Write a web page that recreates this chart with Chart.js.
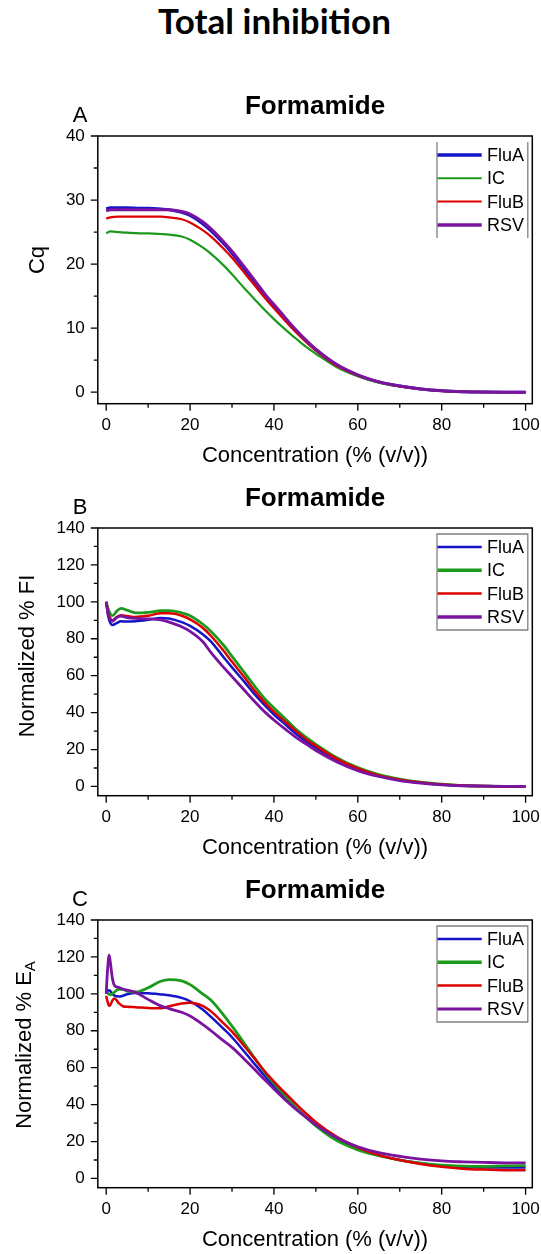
<!DOCTYPE html>
<html>
<head>
<meta charset="utf-8">
<script src="https://cdn.jsdelivr.net/npm/chart.js@4.4.1/dist/chart.umd.min.js"></script>
<style>
  body { margin: 0; width: 541px; height: 1254px; overflow: hidden; background: #fff; position: relative; }
  #title { position: absolute; top: 3px; left: 4px; width: 541px; text-align: center;
           font: bold 35px Lato, "Open Sans", sans-serif; line-height: 35px; color: #000; }
  .panel { position: absolute; left: 0; width: 541px; height: 392px; }
</style>
</head>
<body>
<div id="title">Total inhibition</div>
<div class="panel" style="top:80px"><canvas id="chartA" width="541" height="392"></canvas></div>
<div class="panel" style="top:472px"><canvas id="chartB" width="541" height="392"></canvas></div>
<div class="panel" style="top:864px"><canvas id="chartC" width="541" height="392"></canvas></div>
<script>
// series names and tick labels
const seriesNames = ['FluA', 'IC', 'FluB', 'RSV'];
const xTicks = [0, 20, 40, 60, 80, 100];
const yTicksA = [0, 10, 20, 30, 40];
const yTicksBC = [0, 20, 40, 60, 80, 100, 120, 140];

// A: Cq
const concA = [0, 1, 3, 5, 8, 10, 13, 15, 18, 20, 23, 25, 28, 30, 33, 35, 38, 40, 43, 45, 48, 50, 55, 60, 65, 70, 75, 80, 85, 90, 95, 100];
const cqFluA = [28.6, 28.8, 28.8, 28.8, 28.7, 28.7, 28.6, 28.5, 28.1, 27.6, 26.3, 25.2, 23.2, 21.7, 19.2, 17.6, 15.0, 13.5, 11.2, 9.7, 7.8, 6.6, 4.2, 2.6, 1.6, 0.95, 0.5, 0.22, 0.08, 0.02, 0, 0];
const cqIC = [24.8, 25.1, 25.0, 24.9, 24.8, 24.8, 24.7, 24.6, 24.3, 23.8, 22.6, 21.6, 19.8, 18.4, 16.2, 14.8, 12.7, 11.4, 9.6, 8.5, 6.9, 6.0, 3.9, 2.5, 1.5, 0.9, 0.48, 0.2, 0.08, 0.02, 0, 0];
const cqFluB = [27.1, 27.3, 27.4, 27.4, 27.4, 27.4, 27.4, 27.3, 27.0, 26.5, 25.3, 24.3, 22.4, 21.0, 18.6, 17.0, 14.6, 13.1, 10.9, 9.5, 7.6, 6.5, 4.1, 2.6, 1.6, 0.9, 0.5, 0.2, 0.08, 0.02, 0, 0];
const cqRSV = [28.3, 28.5, 28.5, 28.5, 28.5, 28.5, 28.5, 28.5, 28.2, 27.8, 26.6, 25.5, 23.5, 22.0, 19.5, 17.8, 15.2, 13.7, 11.4, 9.9, 7.9, 6.7, 4.3, 2.7, 1.6, 0.95, 0.5, 0.22, 0.08, 0.02, 0, 0];

// B: Normalized % FI
const concB = [0, 0.5, 1.5, 2.5, 3.5, 5, 7, 10, 13, 15, 18, 20, 23, 25, 28, 30, 33, 35, 38, 40, 43, 45, 48, 50, 55, 60, 65, 70, 75, 80, 85, 90, 95, 100];
const fiFluA = [100, 92, 87.5, 88.5, 89.5, 89.3, 89.5, 90.3, 91.3, 91, 89, 87, 82.5, 78.5, 70, 64.5, 56.5, 51, 43.5, 39, 33, 29, 24, 21, 14.3, 9.3, 5.8, 3.5, 2, 1, 0.5, 0.2, 0.05, 0];
const fiIC = [100, 96, 92.5, 95, 96.5, 95.5, 94, 94.3, 95.2, 95.3, 94, 92.5, 88, 84, 76.5, 70.5, 61.5, 55.5, 47, 42.5, 36, 31.5, 26, 22.8, 15.6, 10.2, 6.4, 4, 2.3, 1.2, 0.5, 0.2, 0.05, 0];
const fiFluB = [100, 94, 90, 91.8, 92.7, 92.3, 91.8, 92.5, 93.8, 93.8, 92.5, 90.5, 86, 81.5, 73.5, 67.5, 59, 53, 45, 40.5, 34.5, 30.5, 25, 22, 15, 9.8, 6, 3.7, 2.1, 1.1, 0.5, 0.2, 0.05, 0];
const fiRSV = [100, 93, 89.5, 91.5, 92.3, 91.5, 91, 90.8, 90.2, 89, 86.5, 84, 78.5, 72.5, 64.5, 59.5, 52, 47, 40, 36, 30.5, 27, 22.5, 19.5, 13.3, 8.6, 5.4, 3.2, 1.8, 0.9, 0.4, 0.15, 0.03, 0];

// C: Normalized % EA
const concC = [0, 0.3, 0.7, 1, 1.5, 2, 3, 4, 5, 7, 10, 13, 15, 18, 20, 23, 25, 28, 30, 33, 35, 38, 40, 43, 45, 48, 50, 55, 60, 65, 70, 75, 80, 85, 90, 95, 100];
const eaFluA = [100, 101.5, 102, 101.5, 100, 99, 98.5, 99, 99.8, 100.5, 100.3, 99.7, 99.2, 97.8, 96, 91.5, 87.5, 81, 76.5, 68.5, 63, 55, 50, 43, 38.5, 32.5, 28.5, 21, 16, 12.5, 10, 8.3, 7, 6.4, 6, 5.9, 5.9];
const eaIC = [101, 100.5, 99.8, 99.5, 100, 101, 102.5, 102.5, 101.5, 101, 103.3, 106.8, 107.7, 107, 105, 100, 96.5, 88.5, 82.5, 73, 66.5, 57, 51.5, 44, 39, 32.5, 28.5, 20.5, 15.5, 12.3, 10, 8.3, 7.2, 6.7, 6.6, 6.8, 7];
const eaFluB = [99, 96, 93.5, 94, 96.5, 97.5, 95, 93.3, 93, 92.8, 92.4, 92.2, 93.3, 94.8, 95.2, 93.5, 90.5, 84, 79.5, 71.5, 66, 57.5, 52.5, 45.5, 41, 34.5, 30.5, 22.5, 16.7, 12.7, 10, 7.8, 6.3, 5.3, 4.8, 4.5, 4.4];
const eaRSV = [100, 112, 121, 117, 108, 104.5, 103.5, 102.5, 102, 100.8, 97, 93.5, 92, 90, 88, 83.5, 80, 74.5, 71, 64.5, 60, 53, 48.5, 42, 38, 32.5, 29, 22, 17.2, 14, 12, 10.5, 9.5, 9, 8.7, 8.5, 8.5];

const colors = ['#1414c8', '#1c9a1c', '#dc0000', '#7a14a0'];
const font = '"Liberation Sans", Arial, sans-serif';

const decorPlugin = {
  id: 'decor',
  afterDraw(chart, args, opts) {
    const ctx = chart.ctx;
    const a = chart.chartArea;
    const x = chart.scales.x, y = chart.scales.y;
    const cx = (a.left + a.right) / 2;
    ctx.save();
    // frame
    ctx.strokeStyle = '#000';
    ctx.lineWidth = 1.5;
    ctx.strokeRect(a.left, a.top, a.right - a.left, a.bottom - a.top);
    // major / minor ticks
    ctx.lineWidth = 1.3;
    ctx.beginPath();
    for (let v = 0; v <= 100; v += 10) {
      const px = x.getPixelForValue(v);
      ctx.moveTo(px, a.bottom);
      ctx.lineTo(px, a.bottom + (v % 20 === 0 ? 7 : 4));
    }
    for (let v = 0; v <= opts.yMax; v += opts.yMajor / 2) {
      const py = y.getPixelForValue(v);
      ctx.moveTo(a.left, py);
      ctx.lineTo(a.left - (v % opts.yMajor === 0 ? 7 : 4), py);
    }
    ctx.stroke();

    ctx.fillStyle = '#000';
    ctx.textBaseline = 'middle';
    ctx.textAlign = 'center';
    ctx.font = 'bold 26px ' + font;
    ctx.fillText('Formamide', cx, 27);
    ctx.font = '22px ' + font;
    ctx.fillText(opts.letter, 80, 36);
    ctx.fillText('Concentration (% (v/v))', cx, 376);

    // y title (rotated, optional subscript)
    ctx.save();
    ctx.translate(opts.yTitleX, opts.yTitleY);
    ctx.rotate(-Math.PI / 2);
    ctx.font = '22px ' + font;
    const mainW = ctx.measureText(opts.yTitle).width;
    let subW = 0;
    if (opts.ySub) {
      ctx.font = '15px ' + font;
      subW = ctx.measureText(opts.ySub).width;
    }
    ctx.textAlign = 'left';
    ctx.font = '22px ' + font;
    ctx.fillText(opts.yTitle, -(mainW + subW) / 2, 0);
    if (opts.ySub) {
      ctx.font = '15px ' + font;
      ctx.fillText(opts.ySub, -(mainW + subW) / 2 + mainW, 6);
    }
    ctx.restore();

    // legend
    const lx0 = a.right - 95.3, lx1 = a.right - 4.5;
    const ly0 = a.top + 6, ly1 = a.top + 102;
    ctx.strokeStyle = '#808080';
    ctx.lineWidth = 1.3;
    ctx.beginPath();
    if (opts.legendBox) {
      ctx.rect(lx0, ly0, lx1 - lx0, ly1 - ly0);
    } else {
      ctx.moveTo(lx0, ly0); ctx.lineTo(lx0, ly1);
      ctx.moveTo(lx1, ly0); ctx.lineTo(lx1, ly1);
    }
    ctx.stroke();
    ctx.font = '18px ' + font;
    ctx.textAlign = 'left';
    chart.data.datasets.forEach((ds, i) => {
      const ly = a.top + 19 + 23.3 * i;
      ctx.strokeStyle = ds.borderColor;
      ctx.lineWidth = opts.legendWidths[i];
      ctx.beginPath();
      ctx.moveTo(lx0 + 0.5, ly);
      ctx.lineTo(a.right - 50.6, ly);
      ctx.stroke();
      ctx.fillStyle = '#000';
      ctx.fillText(ds.label, a.right - 45.3, ly + 1);
    });
    ctx.restore();
  }
};

function makeChart(id, conc, series, yTicks, yMin, yMax, widths, decor) {
  const datasets = series.map((vals, i) => ({
    label: seriesNames[i],
    data: vals.map((v, j) => ({ x: conc[j], y: v })),
    borderColor: colors[i],
    borderWidth: widths[i],
    pointRadius: 0,
    cubicInterpolationMode: 'monotone',
    borderJoinStyle: 'round',
    order: i === 3 ? 0 : 4 - i
  }));
  return new Chart(document.getElementById(id), {
    type: 'line',
    data: { datasets },
    plugins: [decorPlugin],
    options: {
      responsive: false,
      animation: false,
      layout: { padding: { left: 0, top: 56, right: 8.7, bottom: 0 } },
      plugins: { legend: { display: false }, tooltip: { enabled: false }, decor },
      scales: {
        x: {
          type: 'linear', min: -2, max: 101.6,
          grid: { display: false, drawTicks: false }, border: { display: false },
          ticks: { color: '#000', font: { family: font, size: 17 }, padding: 11, maxRotation: 0 },
          afterBuildTicks: s => { s.ticks = xTicks.map(v => ({ value: v })); },
          afterFit: s => { s.height = 68.3; s.paddingLeft = 0; s.paddingRight = 0; }
        },
        y: {
          type: 'linear', min: yMin, max: yMax,
          grid: { display: false, drawTicks: false }, border: { display: false },
          ticks: { color: '#000', font: { family: font, size: 17 }, padding: 13 },
          afterBuildTicks: s => { s.ticks = yTicks.map(v => ({ value: v })); },
          afterFit: s => { s.width = 97.8; s.paddingTop = 0; s.paddingBottom = 0; }
        }
      }
    }
  });
}

makeChart('chartA', concA, [cqFluA, cqIC, cqFluB, cqRSV], yTicksA, -1.8, 40, [3, 2.2, 2.2, 3],
  { letter: 'A', yTitle: 'Cq', yTitleX: 38, yTitleY: 180, yMax: 40, yMajor: 10,
    legendBox: false, legendWidths: [3.5, 2, 2, 3.5] });
makeChart('chartB', concB, [fiFluA, fiIC, fiFluB, fiRSV], yTicksBC, -5, 140, [2.5, 2.8, 2.5, 2.8],
  { letter: 'B', yTitle: 'Normalized % FI', yTitleX: 28, yTitleY: 184, yMax: 140, yMajor: 20,
    legendBox: true, legendWidths: [2.5, 3.5, 2.5, 3.5] });
makeChart('chartC', concC, [eaFluA, eaIC, eaFluB, eaRSV], yTicksBC, -5, 140, [2.5, 2.8, 2.5, 2.8],
  { letter: 'C', yTitle: 'Normalized % E', ySub: 'A', yTitleX: 25, yTitleY: 181, yMax: 140, yMajor: 20,
    legendBox: true, legendWidths: [2.5, 3.5, 2.5, 3] });
</script>
</body>
</html>
